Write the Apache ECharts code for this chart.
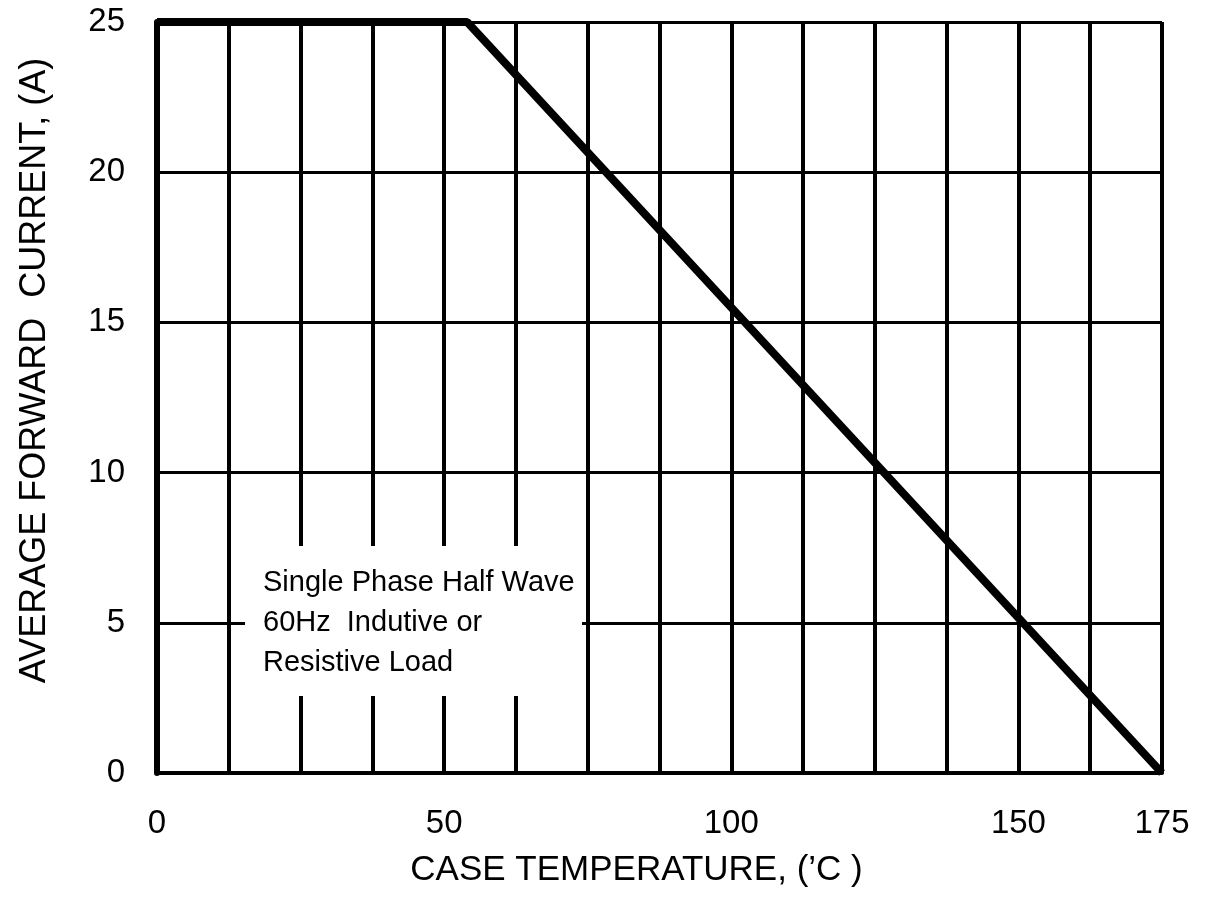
<!DOCTYPE html>
<html>
<head>
<meta charset="utf-8">
<title>Current derating curve</title>
<script src="https://cdn.jsdelivr.net/npm/echarts@6/dist/echarts.min.js"></script>
<style>
  html, body { margin: 0; padding: 0; background: #fff; }
  #chart { width: 1219px; height: 899px; }
</style>
</head>
<body>
<div id="chart"></div>
<script>
  // derating curve: case temperature (C) vs average forward current (A)
  var caseTemp = [0, 54, 175];
  var fwdCurrent = [25, 25, 0];
  // tick labels shown on the x axis (grid every 12.5)
  var xLabels = [0, 50, 100, 150, 175];
  var noteLines = ['Single Phase Half Wave', '60Hz  Indutive or', 'Resistive Load'];

  var font = '"Liberation Sans", Arial, sans-serif';
  var chart = echarts.init(document.getElementById('chart'));

  var option = {
    backgroundColor: '#fff',
    animation: false,
    grid: { left: 157, right: 57, top: 22, bottom: 126 },
    xAxis: {
      type: 'value',
      min: 0,
      max: 175,
      interval: 12.5,
      name: 'CASE TEMPERATURE, (’C )',
      nameLocation: 'middle',
      nameGap: 80,
      nameTextStyle: { color: '#000', fontSize: 35, fontFamily: font, padding: [0, 46, 0, 0] },
      axisLine: { show: true, lineStyle: { color: '#000', width: 4 } },
      axisTick: { show: false },
      axisLabel: {
        color: '#000',
        fontSize: 33,
        fontFamily: font,
        margin: 34,
        formatter: function (v) {
          return xLabels.indexOf(v) >= 0 ? String(v) : '';
        }
      },
      splitLine: { show: true, lineStyle: { color: '#000', width: 4, type: 'solid' } }
    },
    yAxis: {
      type: 'value',
      min: 0,
      max: 25,
      interval: 5,
      name: 'AVERAGE FORWARD  CURRENT, (A)',
      nameLocation: 'middle',
      nameGap: 104,
      nameTextStyle: { color: '#000', fontSize: 36, fontFamily: font, padding: [0, 0, 0, 54] },
      axisLine: { show: true, lineStyle: { color: '#000', width: 6 } },
      axisTick: { show: false },
      axisLabel: { color: '#000', fontSize: 33, fontFamily: font, margin: 32 },
      splitLine: { show: true, lineStyle: { color: '#000', width: 3, type: 'solid' } }
    },
    graphic: [
      {
        type: 'rect',
        z: 1,
        shape: { x: 245, y: 546, width: 337, height: 150 },
        style: { fill: '#fff' }
      },
      {
        type: 'text',
        z: 2,
        left: 263,
        top: 563,
        style: {
          text: noteLines.join('\n'),
          fill: '#000',
          font: '29px ' + font,
          lineHeight: 40
        }
      }
    ],
    series: [{
      type: 'line',
      data: caseTemp.map(function (t, i) { return [t, fwdCurrent[i]]; }),
      symbol: 'none',
      clip: false,
      z: 3,
      lineStyle: { color: '#000', width: 8 }
    }]
  };

  chart.setOption(option);
  window.onresize = chart.resize;
</script>
</body>
</html>
